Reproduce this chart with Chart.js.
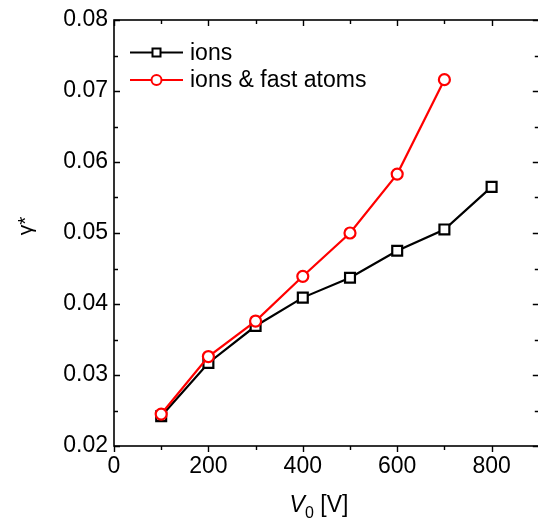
<!DOCTYPE html>
<html lang="en">
<head>
<meta charset="UTF-8">
<title>gamma* vs V0</title>
<script src="https://cdn.jsdelivr.net/npm/chart.js"></script>
<style>
  html, body { margin: 0; padding: 0; background: #fff; overflow: hidden; }
  #myChart { display: block; }
</style>
</head>
<body>
<canvas id="myChart" width="548" height="523"></canvas>
<script>
// data
const voltsIons = [100, 200, 300, 400, 500, 600, 700, 800];
const gammaIons = [0.0242, 0.0317, 0.0369, 0.0409, 0.0437, 0.0475, 0.0505, 0.0565];
const voltsFast = [100, 200, 300, 400, 500, 600, 700];
const gammaFast = [0.0245, 0.0326, 0.0376, 0.0439, 0.0500, 0.0583, 0.0716];
const seriesNames = ['ions', 'ions & fast atoms'];

const xTicks = [0, 200, 400, 600, 800];
const yTicks = [0.02, 0.03, 0.04, 0.05, 0.06, 0.07, 0.08];
const xMinor = [100, 300, 500, 700];
const yMinor = [0.025, 0.035, 0.045, 0.055, 0.065, 0.075];

const FONT = '"Liberation Sans", Arial, Helvetica, sans-serif';

function toPoints(xs, ys) {
    return xs.map((v, i) => ({ x: v, y: ys[i] }));
}

// box + inward ticks (outward on the bottom), like the original plot
const framePlugin = {
    id: 'frame',
    afterDraw(chart) {
        const ctx = chart.ctx;
        const a = chart.chartArea;
        const x = chart.scales.x, y = chart.scales.y;
        ctx.save();
        ctx.strokeStyle = '#000';
        ctx.lineWidth = 1.6;
        ctx.strokeRect(a.left, a.top, a.right - a.left, a.bottom - a.top);
        ctx.lineWidth = 1.4;
        ctx.beginPath();
        const xs = xTicks.map(v => [v, 6]).concat(xMinor.map(v => [v, 4]));
        xs.forEach(([v, len]) => {
            const px = Math.round(x.getPixelForValue(v)) + 0.5;
            ctx.moveTo(px, a.bottom); ctx.lineTo(px, a.bottom + len);
            ctx.moveTo(px, a.top); ctx.lineTo(px, a.top + len);
        });
        const ys = yTicks.map(v => [v, 6]).concat(yMinor.map(v => [v, 4]));
        ys.forEach(([v, len]) => {
            const py = Math.round(y.getPixelForValue(v)) + 0.5;
            ctx.moveTo(a.left, py); ctx.lineTo(a.left + len, py);
            ctx.moveTo(a.right, py); ctx.lineTo(a.right - len, py);
        });
        ctx.stroke();
        ctx.restore();
    }
};

// axis titles: gamma* rotated, V0 with italic V and subscript 0
const titlePlugin = {
    id: 'titles',
    afterDraw(chart) {
        const ctx = chart.ctx;
        ctx.save();
        ctx.fillStyle = '#000';
        ctx.textBaseline = 'alphabetic';

        const parts = [
            { t: 'V', font: 'italic 23px ' + FONT, dy: 0 },
            { t: '0', font: '16px ' + FONT, dy: 6 },
            { t: ' [V]', font: '23px ' + FONT, dy: 0 }
        ];
        let total = 0;
        parts.forEach(p => { ctx.font = p.font; p.w = ctx.measureText(p.t).width; total += p.w; });
        let cx = 319 - total / 2;
        parts.forEach(p => {
            ctx.font = p.font;
            ctx.textAlign = 'left';
            ctx.fillText(p.t, cx, 512 + p.dy);
            cx += p.w;
        });

        ctx.translate(32, 226);
        ctx.rotate(-Math.PI / 2);
        ctx.font = '21px ' + FONT;
        ctx.textAlign = 'center';
        ctx.fillText('\u03b3*', 0, 0);
        ctx.restore();
    }
};

// legend inside the plot: line - marker - line, then label
const legendPlugin = {
    id: 'innerLegend',
    afterDraw(chart) {
        const ctx = chart.ctx;
        const rows = [52.5, 80];
        ctx.save();
        chart.data.datasets.forEach((ds, i) => {
            const yy = rows[i];
            ctx.strokeStyle = ds.borderColor;
            ctx.lineWidth = 2;
            ctx.beginPath();
            ctx.moveTo(130, yy); ctx.lineTo(183, yy);
            ctx.stroke();
            ctx.fillStyle = '#fff';
            ctx.beginPath();
            if (ds.pointStyle === 'rect') {
                ctx.rect(152.5, yy - 4, 8, 8);
            } else {
                ctx.arc(156.5, yy, 5, 0, Math.PI * 2);
            }
            ctx.fill();
            ctx.stroke();
            ctx.fillStyle = '#000';
            ctx.font = '23px ' + FONT;
            ctx.textAlign = 'left';
            ctx.textBaseline = 'middle';
            ctx.fillText(ds.label, 190, yy + 1);
        });
        ctx.restore();
    }
};

const ctx = document.getElementById('myChart').getContext('2d');
new Chart(ctx, {
    type: 'line',
    data: {
        datasets: [
            {
                label: seriesNames[0],
                data: toPoints(voltsIons, gammaIons),
                borderColor: '#000000',
                borderWidth: 2.2,
                pointStyle: 'rect',
                pointRadius: 7,
                pointBorderWidth: 2.2,
                pointBackgroundColor: '#ffffff',
                pointBorderColor: '#000000',
                order: 2
            },
            {
                label: seriesNames[1],
                data: toPoints(voltsFast, gammaFast),
                borderColor: '#ff0000',
                borderWidth: 2.2,
                pointStyle: 'circle',
                pointRadius: 5.5,
                pointBorderWidth: 2.2,
                pointBackgroundColor: '#ffffff',
                pointBorderColor: '#ff0000',
                order: 1
            }
        ]
    },
    options: {
        responsive: false,
        animation: false,
        layout: { padding: { top: 20, right: 9, left: 0, bottom: 0 } },
        plugins: {
            legend: { display: false },
            tooltip: { enabled: false }
        },
        scales: {
            x: {
                type: 'linear',
                min: 0,
                max: 900,
                grid: { display: false, drawTicks: false },
                border: { display: false },
                afterBuildTicks: s => { s.ticks = xTicks.map(v => ({ value: v })); },
                afterFit: s => { s.height = 77; },
                ticks: {
                    color: '#000',
                    padding: 7,
                    font: { family: FONT, size: 23 },
                    callback: v => String(v)
                }
            },
            y: {
                min: 0.02,
                max: 0.08,
                grid: { display: false, drawTicks: false },
                border: { display: false },
                afterBuildTicks: s => { s.ticks = yTicks.map(v => ({ value: v })); },
                afterFit: s => { s.width = 114; },
                ticks: {
                    color: '#000',
                    padding: 6,
                    font: { family: FONT, size: 23 },
                    callback: v => Number(v).toFixed(2)
                }
            }
        }
    },
    plugins: [framePlugin, titlePlugin, legendPlugin]
});
</script>
</body>
</html>
